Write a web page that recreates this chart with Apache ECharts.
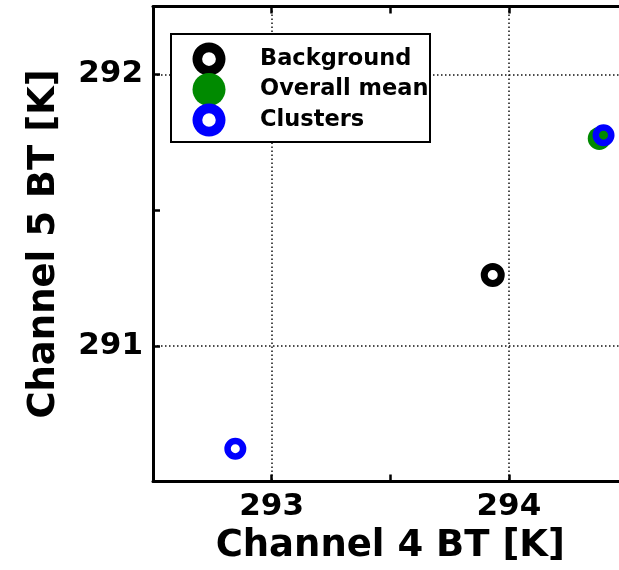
<!DOCTYPE html>
<html>
<head>
<meta charset="utf-8">
<title>Channel 4 vs Channel 5 brightness temperature</title>
<script src="https://cdn.jsdelivr.net/npm/echarts@6/dist/echarts.min.js"></script>
<style>
  html, body { margin: 0; padding: 0; background: #fff; }
  #chart { width: 619px; height: 570px; }
</style>
</head>
<body>
<div id="chart"></div>
<script>
// Brightness temperatures [Channel 4, Channel 5] in kelvin
const background = [[293.932, 291.261]];
const overallMean = [[294.381, 291.764]];
const clusters = [[292.847, 290.621], [294.399, 291.776]];

const seriesNames = ['Background', 'Overall mean', 'Clusters'];
const xRange = [292.5, 294.5];
const yRange = [290.5, 292.25];
const tickStep = 0.5;

const FONT = "'DejaVu Sans', 'Liberation Sans', sans-serif";

// Annulus (ring) outline, outer radius R, inner radius r
function ringPath(R, r) {
  return 'path://M0,' + R + ' A' + R + ',' + R + ' 0 1 0 ' + (2 * R) + ',' + R +
    ' A' + R + ',' + R + ' 0 1 0 0,' + R + ' Z' +
    ' M' + (R - r) + ',' + R + ' A' + r + ',' + r + ' 0 1 1 ' + (R + r) + ',' + R +
    ' A' + r + ',' + r + ' 0 1 1 ' + (R - r) + ',' + R + ' Z';
}

const intLabel = v => (Math.abs(v - Math.round(v)) < 1e-6 ? String(Math.round(v)) : '');

const axisLine = { show: true, onZero: false, lineStyle: { color: '#000', width: 3 } };
const axisTick = { show: true, inside: true, length: 7, lineStyle: { color: '#000', width: 2.5 } };
const gridLine = {
  show: true,
  lineStyle: { color: ['rgba(0,0,0,0)', '#111'], width: 1.5, type: [1.5, 2.5] }
};
const tickFont = { fontFamily: FONT, fontWeight: 'bold', fontSize: 31, color: '#000' };
const nameFont = { fontFamily: FONT, fontWeight: 'bold', fontSize: 37, color: '#000' };

const chart = echarts.init(document.getElementById('chart'), null, { renderer: 'canvas' });

chart.setOption({
  animation: false,
  backgroundColor: '#fff',
  grid: { left: 153, top: 6.5, right: -8.5, bottom: 88.5, containLabel: false, outerBoundsMode: 'none' },
  xAxis: [
    {
      type: 'value', position: 'bottom', min: xRange[0], max: xRange[1], interval: tickStep,
      axisLine: axisLine, axisTick: axisTick, splitLine: gridLine,
      axisLabel: Object.assign({ formatter: intLabel, margin: 10 }, tickFont),
      name: 'Channel 4 BT [K]', nameLocation: 'middle', nameGap: 46, nameTextStyle: nameFont
    },
    {
      type: 'value', position: 'top', min: xRange[0], max: xRange[1], interval: tickStep,
      axisLine: axisLine, axisTick: axisTick, axisLabel: { show: false }, splitLine: { show: false }
    }
  ],
  yAxis: [
    {
      type: 'value', position: 'left', min: yRange[0], max: yRange[1], interval: tickStep,
      axisLine: axisLine, axisTick: axisTick, splitLine: gridLine,
      axisLabel: Object.assign({ formatter: intLabel, margin: 10 }, tickFont),
      name: 'Channel 5 BT [K]', nameLocation: 'middle', nameGap: 90, nameRotate: 90, nameTextStyle: nameFont
    },
    {
      type: 'value', position: 'right', min: yRange[0], max: yRange[1], interval: tickStep,
      axisLine: axisLine, axisTick: axisTick, axisLabel: { show: false }, splitLine: { show: false }
    }
  ],
  legend: {
    data: seriesNames,
    orient: 'vertical',
    left: 192.5, top: 42.5,
    padding: 0,
    itemWidth: 33, itemHeight: 33, itemGap: -2.5,
    selectedMode: false,
    textStyle: {
      fontFamily: FONT, fontWeight: 'bold', fontSize: 22.5, color: '#000',
      padding: [0, 0, 0, 29.5]
    }
  },
  graphic: [{
    type: 'rect', z: 3, silent: true,
    shape: { x: 171, y: 34, width: 259, height: 108 },
    style: { fill: '#fff', stroke: '#000', lineWidth: 2 }
  }],
  series: [
    {
      name: seriesNames[0], type: 'scatter', data: background,
      symbol: ringPath(12, 5), symbolSize: 24,
      itemStyle: { color: '#000', opacity: 1 }
    },
    {
      name: seriesNames[1], type: 'scatter', data: overallMean,
      symbol: 'circle', symbolSize: 23,
      itemStyle: { color: '#008a00', opacity: 1 }
    },
    {
      name: seriesNames[2], type: 'scatter', data: clusters,
      symbol: ringPath(11, 4.5), symbolSize: 22,
      itemStyle: { color: '#0000ff', opacity: 1 }
    }
  ]
});
</script>
</body>
</html>
